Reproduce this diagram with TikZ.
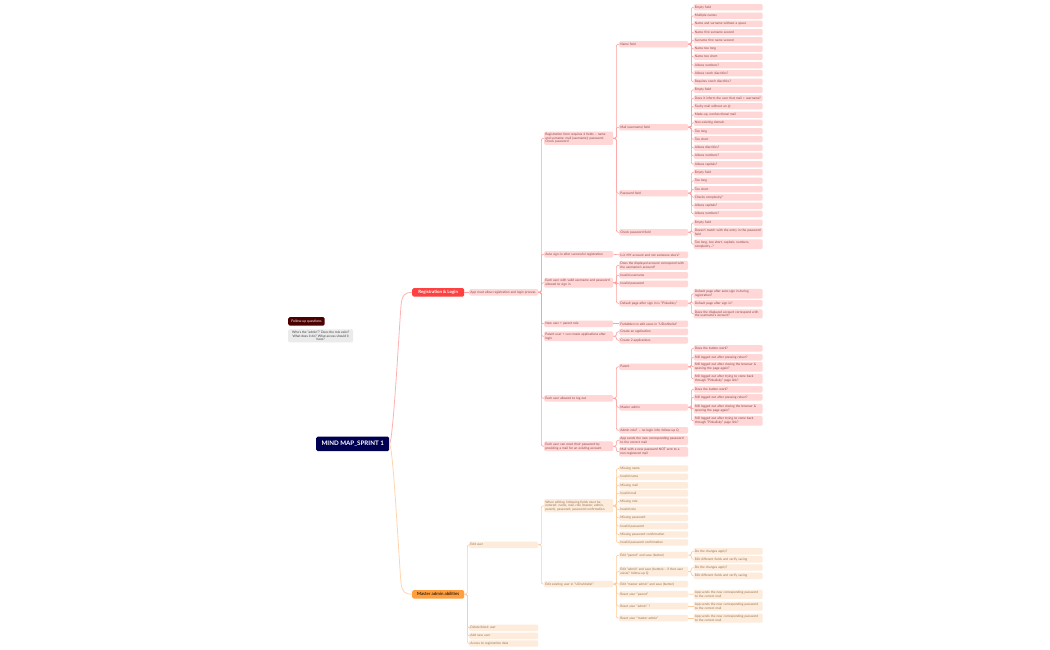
\documentclass[tikz,border=0pt]{standalone}
\usepackage{fontspec}
\setmainfont{Lato}
\hyphenpenalty=10000
\definecolor{redfill}{HTML}{FFD7D7}
\definecolor{redtext}{HTML}{8A4646}
\definecolor{redline}{HTML}{FF9F9F}
\definecolor{orangefill}{HTML}{FDEBDC}
\definecolor{orangetext}{HTML}{96754F}
\definecolor{orangeline}{HTML}{FFCB9A}
\tikzset{
  rednode/.style={anchor=west, fill=redfill, text=redtext, rounded corners=1.3pt, text width=66.6, inner xsep=1.2, inner ysep=1.5, minimum height=6.4, align=left, font=\fontsize{3.2}{3.7}\selectfont},
  orangenode/.style={rednode, fill=orangefill, text=orangetext},
  redlink/.style={draw=redline, line width=0.65, rounded corners=2},
  orangelink/.style={draw=orangeline, line width=0.65, rounded corners=2},
  bigbox/.style={anchor=west, rounded corners=1.5pt, text=white, minimum height=8.5, inner sep=1, align=center, font=\fontsize{4.4}{5}\selectfont\bfseries}
}
\begin{document}
\begin{tikzpicture}[x=1pt, y=-1pt]
        \useasboundingbox[fill=white] (0,-0.8) rectangle (1050,649.2);

        % Main nodes
        \node[bigbox, fill=blue!20!black!85!blue, minimum width=73, minimum height=14.5, font=\fontsize{6.2}{7}\selectfont\bfseries] (title) at (316,443) {MIND MAP\_SPRINT 1};
        \node[bigbox, fill=red!75!white, minimum width=52] (reglogin) at (412,291.5) {Registration \& Login};
        \node[bigbox, fill=orange!75!white, text=black, font=\fontsize{4.4}{5}\selectfont, minimum width=52] (master) at (412,593.5) {Master admin abilities};

        % Follow-up note
        \node[bigbox, fill=red!30!black, minimum width=36.5, font=\fontsize{3.4}{4}\selectfont] (followup) at (288,320.5) {Follow-up questions};
        \node[anchor=west, fill=black!8, text=black!75, rounded corners=1.3pt, minimum width=65, inner sep=1.5, align=center, font=\fontsize{3.25}{3.7}\selectfont] (adminq) at (288,335) {Who's the "admin"? Does the role exist?\\ What does it do? What access should it\\ have?};

        % Second level, red
        \node[rednode] (appmust) at (469,291.5) {App must allow registration and login process};
        \node[rednode] (regform) at (544,137.5) {Registration form requires 4 fields -- name\\ and surname; mail (username); password;\\ Check password};
        \node[rednode] (autosign) at (544,253.5) {Auto sign-in after successful registration};
        \node[rednode] (validuser) at (544,282) {Each user with valid username and password\\ allowed to sign in};
        \node[rednode] (newuser) at (544,323) {New user + parent role};
        \node[rednode] (parentuser) at (544,335.5) {Parent user + can create applications after\\ login};
        \node[rednode] (logout) at (544,397.5) {Each user allowed to log out};
        \node[rednode] (reset) at (544,445.5) {Each user can reset their password by\\ providing a mail for an existing account};

        % Third level, red
        \node[rednode] (namefield) at (619,43.5) {Name field};
        \node[rednode] (mailfield) at (619,126.5) {Mail (username) field};
        \node[rednode] (passfield) at (619,192.5) {Password field};
        \node[rednode] (checkfield) at (619,231.5) {Check password field};
        \node[rednode] (myaccount) at (619,254) {Is it MY account and not someone else's?};
        \node[rednode] (display) at (619,264.5) {Does the displayed account correspond with\\ the username's account?};
        \node[rednode] (invuser) at (619,274.5) {Invalid username};
        \node[rednode] (invpass) at (619,283) {Invalid password};
        \node[rednode] (defpage) at (619,302.5) {Default page after sign in is "Pinkalisky"};
        \node[rednode] (forbidden) at (619,323) {Forbidden to edit users in "UDwhitelist"};
        \node[rednode] (createone) at (619,331) {Create an application};
        \node[rednode] (createtwo) at (619,339.5) {Create 2 applications};
        \node[rednode] (parentout) at (619,366) {Parent};
        \node[rednode] (masterout) at (619,406.5) {Master admin};
        \node[rednode] (adminrole) at (619,429.5) {Admin role? -- no login info; follow-up Q};
        \node[rednode] (appsends) at (619,439.5) {App sends the new corresponding password\\ to the correct mail};
        \node[rednode] (mailnew) at (619,451) {Mail with a new password NOT sent to a\\ non-registered mail};

        % Fourth level, name field
        \foreach \nm/\yy/\txt in {a/6.5/Empty field, b/15/Multiple names, c/23/Name and surname without a space, d/31.5/Name first surname second, e/39.5/Surname first name second, f/48/Name too long, g/56/Name too short, h/64.5/Allows numbers?, i/72.5/Allows czech diacritics?, j/81/Requires czech diacritics?}
            \node[rednode] (name\nm) at (693.5,\yy) {\txt};

        % Fourth level, mail field
        \foreach \nm/\yy/\txt in {a/89/Empty field, b/97.5/Does it inform the user that mail = username?, c/105.5/Faulty mail without an @, d/114/{Made-up, nonfunctional mail}, e/122/Non-existing domain, f/130.5/Too long, g/138.5/Too short, h/147/Allows diacritics?, i/155/Allows numbers?, j/163.5/Allows capitals?}
            \node[rednode] (mail\nm) at (693.5,\yy) {\txt};

        % Fourth level, password fields
        \foreach \nm/\yy/\txt in {a/171.5/Empty field, b/180/Too long, c/188.5/Too short, d/196.5/Checks complexity?, e/205/Allows capitals?, f/213/Allows numbers?}
            \node[rednode] (pass\nm) at (693.5,\yy) {\txt};
        \node[rednode] (checka) at (693.5,222) {Empty field};
        \node[rednode] (checkb) at (693.5,231.5) {Doesn't match with the entry in the password\\ field};
        \node[rednode] (checkc) at (693.5,243.5) {Too long, too short, capitals, numbers,\\ complexity...?};

        % Fourth level, default page
        \node[rednode] (defa) at (693.5,293) {Default page after auto-sign in during\\ registration?};
        \node[rednode] (defb) at (693.5,302.5) {Default page after sign in?};
        \node[rednode] (defc) at (693.5,313) {Does the displayed account correspond with\\ the username's account?};

        % Fourth level, log out
        \foreach \who/\ya/\yb/\yc/\yd in {par/347.5/356.5/366/378, mas/388.5/396.5/408/420} {
            \node[rednode] (\who a) at (693.5,\ya) {Does the button work?};
            \node[rednode] (\who b) at (693.5,\yb) {Still logged out after pressing return?};
            \node[rednode] (\who c) at (693.5,\yc) {Still logged out after closing the browser \&\\ opening the page again?};
            \node[rednode] (\who d) at (693.5,\yd) {Still logged out after trying to come back\\ through "Pinkalisky" page link?};
        }

        % Orange side
        \node[orangenode] (edituser) at (469,544) {Edit user};
        \node[orangenode] (delete) at (469,627) {Delete/block user};
        \node[orangenode] (addnew) at (469,635) {Add new user};
        \node[orangenode] (access) at (469,642.7) {Access to registration data};
        \node[orangenode] (whenedit) at (544,505) {When editing, following fields must be\\ entered: name, mail, role (master, admin,\\ parent), password, password confirmation};
        \node[orangenode] (editexist) at (544,583.3) {Edit existing user in "UDwhitelist"};

        \foreach \nm/\yy/\txt in {a/467.7/Missing name, b/476/Invalid name, c/484.5/Missing mail, d/492.5/Invalid mail, e/500.7/Missing role, f/508.7/Invalid role, g/517/Missing password, h/525.3/Invalid password, i/533.7/Missing password confirmation, j/541.7/Invalid password confirmation}
            \node[orangenode] (field\nm) at (619,\yy) {\txt};

        \node[orangenode] (editpar) at (619,554.3) {Edit "parent" and save (button)};
        \node[orangenode] (editadm) at (619,570.7) {Edit "admin" and save (button) -- if that user\\ exists? follow-up Q};
        \node[orangenode] (editmas) at (619,583.3) {Edit "master admin" and save (button)};
        \node[orangenode] (resetpar) at (619,593.3) {Reset your "parent"};
        \node[orangenode] (resetadm) at (619,605.3) {Reset your "admin" ?};
        \node[orangenode] (resetmas) at (619,617.3) {Reset your "master admin"};

        \node[orangenode] (parapply) at (693.5,550.5) {Do the changes apply?};
        \node[orangenode] (parverify) at (693.5,558.5) {Edit different fields and verify saving};
        \node[orangenode] (admapply) at (693.5,566.7) {Do the changes apply?};
        \node[orangenode] (admverify) at (693.5,575) {Edit different fields and verify saving};
        \node[orangenode] (parsends) at (693.5,593.5) {App sends the new corresponding password\\ to the correct mail};
        \node[orangenode] (admsends) at (693.5,605.3) {App sends the new corresponding password\\ to the correct mail};
        \node[orangenode] (massends) at (693.5,617.3) {App sends the new corresponding password\\ to the correct mail};

        % Big curved branches
        \draw[draw=redline!80, line width=0.8] (title.east) .. controls (393,443) and (399,330) .. (401,305) .. controls (402,294) and (405,291.5) .. (reglogin.west);
        \draw[draw=orangeline!80, line width=0.8] (title.east) .. controls (393,443) and (399,560) .. (401,582) .. controls (402,591) and (405,593.5) .. (master.west);

        % Red links
        \draw[redlink] (reglogin.east) -- (appmust.west);
        \foreach \kid in {regform,autosign,validuser,newuser,parentuser,logout,reset}
            \draw[redlink] (appmust.east) -- ++(3,0) |- (\kid.west);
        \foreach \kid in {namefield,mailfield,passfield,checkfield}
            \draw[redlink] (regform.east) -- ++(3,0) |- (\kid.west);
        \foreach \kid in {namea,nameb,namec,named,namee,namef,nameg,nameh,namei,namej}
            \draw[redlink] (namefield.east) -- ++(3,0) |- (\kid.west);
        \foreach \kid in {maila,mailb,mailc,maild,maile,mailf,mailg,mailh,maili,mailj}
            \draw[redlink] (mailfield.east) -- ++(3,0) |- (\kid.west);
        \foreach \kid in {passa,passb,passc,passd,passe,passf}
            \draw[redlink] (passfield.east) -- ++(3,0) |- (\kid.west);
        \foreach \kid in {checka,checkb,checkc}
            \draw[redlink] (checkfield.east) -- ++(3,0) |- (\kid.west);
        \draw[redlink] (autosign.east) -- (myaccount.west);
        \foreach \kid in {display,invuser,invpass,defpage}
            \draw[redlink] (validuser.east) -- ++(3,0) |- (\kid.west);
        \foreach \kid in {defa,defb,defc}
            \draw[redlink] (defpage.east) -- ++(3,0) |- (\kid.west);
        \draw[redlink] (newuser.east) -- (forbidden.west);
        \foreach \kid in {createone,createtwo}
            \draw[redlink] (parentuser.east) -- ++(3,0) |- (\kid.west);
        \foreach \kid in {parentout,masterout,adminrole}
            \draw[redlink] (logout.east) -- ++(3,0) |- (\kid.west);
        \foreach \kid in {para,parb,parc,pard}
            \draw[redlink] (parentout.east) -- ++(3,0) |- (\kid.west);
        \foreach \kid in {masa,masb,masc,masd}
            \draw[redlink] (masterout.east) -- ++(3,0) |- (\kid.west);
        \foreach \kid in {appsends,mailnew}
            \draw[redlink] (reset.east) -- ++(3,0) |- (\kid.west);

        % Orange links
        \foreach \kid in {edituser,delete,addnew,access}
            \draw[orangelink] (master.east) -- ++(3,0) |- (\kid.west);
        \foreach \kid in {whenedit,editexist}
            \draw[orangelink] (edituser.east) -- ++(3,0) |- (\kid.west);
        \foreach \kid in {fielda,fieldb,fieldc,fieldd,fielde,fieldf,fieldg,fieldh,fieldi,fieldj}
            \draw[orangelink] (whenedit.east) -- ++(3,0) |- (\kid.west);
        \foreach \kid in {editpar,editadm,editmas,resetpar,resetadm,resetmas}
            \draw[orangelink] (editexist.east) -- ++(3,0) |- (\kid.west);
        \foreach \kid in {parapply,parverify}
            \draw[orangelink] (editpar.east) -- ++(3,0) |- (\kid.west);
        \foreach \kid in {admapply,admverify}
            \draw[orangelink] (editadm.east) -- ++(3,0) |- (\kid.west);
        \draw[orangelink] (resetpar.east) -- (parsends.west);
        \draw[orangelink] (resetadm.east) -- (admsends.west);
        \draw[orangelink] (resetmas.east) -- (massends.west);
\end{tikzpicture}
\end{document}
